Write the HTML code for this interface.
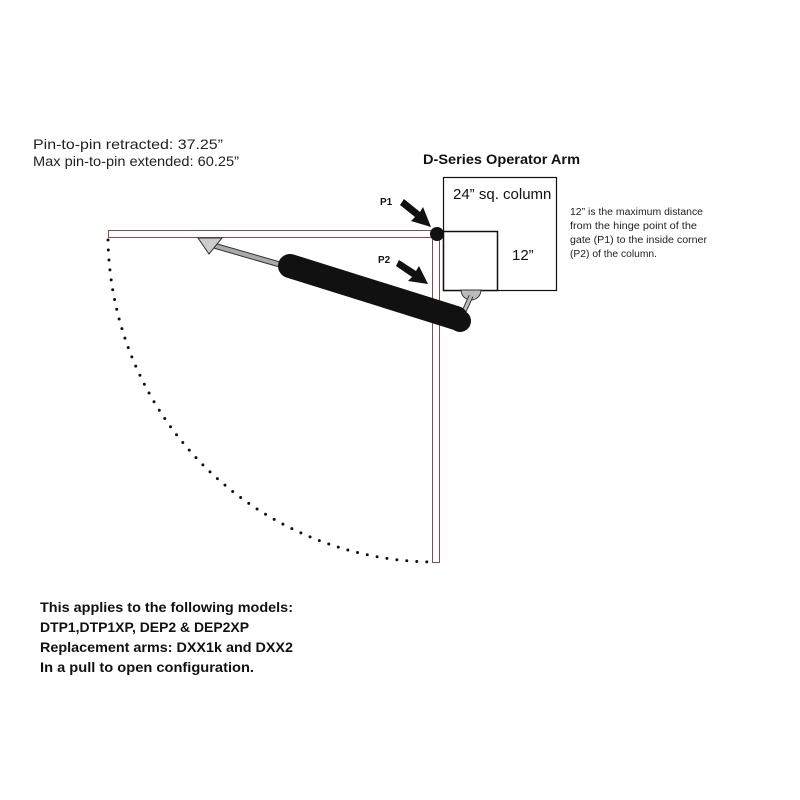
<!DOCTYPE html>
<html><head><meta charset="utf-8"><style>
html,body{margin:0;padding:0;background:#fff}
svg{display:block}
</style></head><body>
<svg width="800" height="800" viewBox="0 0 800 800" xmlns="http://www.w3.org/2000/svg">
<rect width="800" height="800" fill="#fff"/>
<text x="33" y="149" font-family="Liberation Sans, sans-serif" font-size="14" fill="#222" textLength="190" lengthAdjust="spacingAndGlyphs">Pin-to-pin retracted: 37.25”</text>
<text x="33" y="166" font-family="Liberation Sans, sans-serif" font-size="14" fill="#222" textLength="206" lengthAdjust="spacingAndGlyphs">Max pin-to-pin extended: 60.25”</text>
<text x="423" y="164" font-family="Liberation Sans, sans-serif" font-size="14" font-weight="bold" fill="#111" textLength="157" lengthAdjust="spacingAndGlyphs">D-Series Operator Arm</text>
<path d="M108,240 A328,328 0 0 0 432,562" fill="none" stroke="#111" stroke-width="3" stroke-dasharray="0 10" stroke-linecap="round"/>
<rect x="443.5" y="177.5" width="113" height="113" fill="#fff" stroke="#111" stroke-width="1.2"/>
<rect x="443.5" y="231.5" width="54" height="59" fill="#fff" stroke="#111" stroke-width="1.5"/>
<text x="453" y="199" font-family="Liberation Sans, sans-serif" font-size="15" fill="#111">24” sq. column</text>
<text x="512" y="260" font-family="Liberation Sans, sans-serif" font-size="15" fill="#111">12”</text>
<rect x="108.5" y="230.5" width="330" height="7" fill="#fff" stroke="#8a4a4a" stroke-width="1"/>
<rect x="432.5" y="234.5" width="7" height="328" fill="#fff" stroke="#8a4a4a" stroke-width="1"/>
<circle cx="437" cy="234" r="7" fill="#111"/>
<path d="M461,290 A10,10 0 0 0 481,290 Z" fill="#bbb" stroke="#333" stroke-width="1"/>
<line x1="471" y1="296" x2="462" y2="316" stroke="#333" stroke-width="5"/>
<line x1="471" y1="296" x2="462" y2="316" stroke="#bbb" stroke-width="3"/>
<line x1="212" y1="245" x2="292" y2="268" stroke="#333" stroke-width="6"/>
<line x1="212" y1="245" x2="292" y2="268" stroke="#aaa" stroke-width="4"/>
<polygon points="198,238 222,238 209,254" fill="#ccc" stroke="#333" stroke-width="1"/>
<line x1="290" y1="266" x2="456" y2="318" stroke="#111" stroke-width="24" stroke-linecap="round"/>
<circle cx="460" cy="321" r="11" fill="#111"/>
<g fill="#111">
<polygon points="404,199 420,212 423,207 431,227 411,221 415,217 400,205"/>
<polygon points="399,260 416,271 419,266 428,284 408,281 412,277 396,266"/>
</g>
<text x="380" y="205" font-family="Liberation Sans, sans-serif" font-size="10" font-weight="bold" fill="#111">P1</text>
<text x="378" y="263" font-family="Liberation Sans, sans-serif" font-size="10" font-weight="bold" fill="#111">P2</text>
<g font-family="Liberation Sans, sans-serif" font-size="10" fill="#222">
<text x="570" y="215" textLength="133" lengthAdjust="spacingAndGlyphs">12” is the maximum distance</text>
<text x="570" y="229" textLength="127" lengthAdjust="spacingAndGlyphs">from the hinge point of the</text>
<text x="570" y="243" textLength="137" lengthAdjust="spacingAndGlyphs">gate (P1) to the inside corner</text>
<text x="570" y="257" textLength="87" lengthAdjust="spacingAndGlyphs">(P2) of the column.</text>
</g>
<g font-family="Liberation Sans, sans-serif" font-size="14" font-weight="bold" fill="#111">
<text x="40" y="612" textLength="253" lengthAdjust="spacingAndGlyphs">This applies to the following models:</text>
<text x="40" y="632" textLength="209" lengthAdjust="spacingAndGlyphs">DTP1,DTP1XP, DEP2 &amp; DEP2XP</text>
<text x="40" y="652" textLength="253" lengthAdjust="spacingAndGlyphs">Replacement arms: DXX1k and DXX2</text>
<text x="40" y="672" textLength="214" lengthAdjust="spacingAndGlyphs">In a pull to open configuration.</text>
</g>
</svg>
</body></html>
